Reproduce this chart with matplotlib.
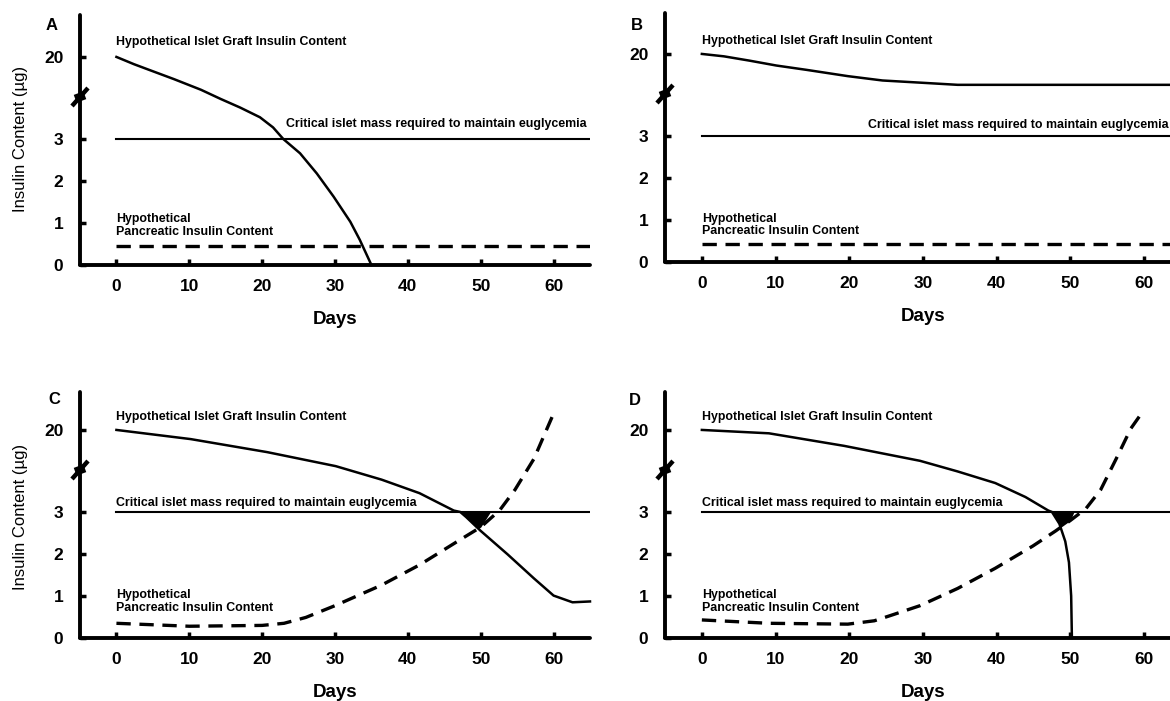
import numpy as np
import matplotlib
matplotlib.use("Agg")
import matplotlib.pyplot as plt

# ——— fonts ———
plt.rcParams['font.family'] = ['Liberation Sans', 'DejaVu Sans']
note_font = ['Liberation Sans', 'DejaVu Sans']
note_size = 8.9

# ——— data (days, insulin content µg) ———
days_flat = [0, 65]
critical = [3, 3]

a_graft_days = [0, 2.4, 4.7, 7.9, 11.6, 14.3, 17.0, 19.7, 21.5, 22.9, 25.2, 27.5, 29.8, 32.1, 33.4, 35.0]
a_graft = [20, 18.5, 17.2, 15.4, 13.2, 11.3, 9.5, 7.5, 5.4, 3.0, 2.66, 2.18, 1.63, 1.03, 0.6, 0.0]
a_panc = [0.46, 0.46]

b_graft_days = [0, 3.0, 6.5, 10.1, 14.2, 19.8, 24.5, 30.2, 34.7, 39.8, 50, 65]
b_graft = [20, 19.5, 18.6, 17.6, 16.7, 15.4, 14.5, 14.0, 13.6, 13.6, 13.6, 13.6]
b_panc = [0.43, 0.43]

c_graft_days = [0, 10.2, 20.7, 30.1, 36.4, 41.6, 46.3, 47.2, 48.0, 50.0, 53.7, 57.3, 60.0, 62.6, 65.0]
c_graft = [20, 18.1, 15.4, 12.5, 9.7, 6.9, 3.3, 3.0, 2.88, 2.55, 1.99, 1.42, 1.01, 0.85, 0.87]
c_panc_days = [0, 10, 20, 23, 26, 30, 36.4, 41.6, 46.9, 50, 52.6, 54.7, 57.3, 60]
c_panc = [0.35, 0.28, 0.30, 0.35, 0.49, 0.77, 1.26, 1.74, 2.31, 2.64, 3.35, 7.6, 14.0, 23.4]

d_graft_days = [0, 9.1, 19.3, 29.6, 34.7, 39.8, 43.9, 47.0, 47.5, 48.5, 49.3, 49.8, 50.1, 50.2]
d_graft = [20, 19.3, 16.7, 13.6, 11.4, 9.0, 6.1, 3.3, 3.0, 2.72, 2.3, 1.8, 1.0, 0.0]
d_panc_days = [0, 9.1, 19.8, 23.4, 25.5, 29.6, 34.7, 39.8, 44.9, 48, 50, 52.1, 54.1, 56.2, 58.2, 60]
d_panc = [0.43, 0.35, 0.33, 0.41, 0.53, 0.77, 1.18, 1.66, 2.19, 2.55, 2.80, 3.7, 7.6, 14.0, 20.3, 24.2]

yticks = [0, 1, 2, 3, 20]
xticks = [0, 10, 20, 30, 40, 50, 60]

# ——— broken y axis: 0-3 linear, 3-20 compressed ———
K = 8.7
def fwd(y):
    y = np.asarray(y, dtype=float)
    return np.where(y <= 3, y, 3 + (y - 3) / K)

def inv(d):
    d = np.asarray(d, dtype=float)
    return np.where(d <= 3, d, 3 + (d - 3) * K)

W, H = 1170, 701
fig = plt.figure(figsize=(W / 100, H / 100), dpi=100)

panels = [
    dict(letter='A', px=(80, 15, 590, 265), lpos=(52, 25),
         graft=(a_graft_days, a_graft), panc=(days_flat, a_panc),
         crit=(64.5, 6.1, 'right'), glab=23.1, plab=0.95, fill=False),
    dict(letter='B', px=(665, 13, 1181, 262), lpos=(637, 25),
         graft=(b_graft_days, b_graft), panc=(days_flat, b_panc),
         crit=(63.3, 5.3, 'right'), glab=22.6, plab=0.88, fill=False),
    dict(letter='C', px=(80, 392, 590, 638), lpos=(54, 400),
         graft=(c_graft_days, c_graft), panc=(c_panc_days, c_panc),
         crit=(0, 4.9, 'left'), glab=22.6, plab=0.86, fill=True),
    dict(letter='D', px=(665, 392, 1181, 638), lpos=(635, 401),
         graft=(d_graft_days, d_graft), panc=(d_panc_days, d_panc),
         crit=(0, 4.9, 'left'), glab=22.6, plab=0.86, fill=True),
]

for p in panels:
    l, t, r, b = p['px']
    ax = fig.add_axes([l / W, 1 - b / H, (r - l) / W, (b - t) / H])
    ax.set_yscale('function', functions=(fwd, inv))
    top_disp = (b - t) / 42.0
    ax.set_ylim(0, float(inv(top_disp)))
    ax.set_xlim(-5, 65)

    # curves
    gx, gy = p['graft']
    ax.plot(gx, gy, color='black', lw=1.8, clip_on=False)
    px_, py_ = p['panc']
    ax.plot(px_, py_, color='black', lw=2.4, linestyle=(0, (4.3, 2.6)))
    ax.plot(days_flat, critical, color='black', lw=1.5)

    if p['fill']:
        xg = np.linspace(44, 56, 400)
        lower = np.maximum(np.interp(xg, gx, gy), np.interp(xg, px_, py_))
        ax.fill_between(xg, lower, 3, where=lower < 3, color='black', lw=0)

    # annotations
    ax.text(0, p['glab'], 'Hypothetical Islet Graft Insulin Content',
            family=note_font, fontsize=note_size, fontweight='bold', va='center', ha='left')
    cx, cy, cha = p['crit']
    ax.text(cx, cy, 'Critical islet mass required to maintain euglycemia',
            family=note_font, fontsize=note_size, fontweight='bold', va='center', ha=cha)
    ax.text(0, p['plab'], 'Hypothetical\nPancreatic Insulin Content',
            family=note_font, fontsize=note_size, fontweight='bold', va='center', ha='left',
            linespacing=1.1)

    # axes styling
    for s in ['top', 'right']:
        ax.spines[s].set_visible(False)
    for s in ['left', 'bottom']:
        ax.spines[s].set_linewidth(2.8)
        ax.spines[s].set_capstyle('round')
    ax.set_yticks(yticks)
    ax.set_yticklabels([str(v) for v in yticks])
    ax.set_xticks(xticks)
    ax.set_xticklabels([str(v) for v in xticks])
    ax.yaxis.set_minor_locator(matplotlib.ticker.NullLocator())
    ax.tick_params(axis='both', direction='in', length=4, width=2.5, labelsize=12.5)
    ax.tick_params(axis='x', pad=10)
    ax.tick_params(axis='y', pad=12)
    for lab in ax.get_xticklabels() + ax.get_yticklabels():
        lab.set_fontweight('bold')
    ax.set_xlabel('Days', fontsize=13.5, fontweight='bold', labelpad=12)

    # axis break mark
    yb = 4.0 / top_disp
    hw, hh = 8 / (r - l), 9 / (b - t)
    ax.plot([-hw, hw], [yb - hh, yb + hh], transform=ax.transAxes,
            color='black', lw=3.2, clip_on=False, solid_capstyle='butt')
    ax.plot([-hw * 0.6, hw * 0.6], [yb - hh * 0.2, yb + hh * 0.2], transform=ax.transAxes,
            color='black', lw=6, clip_on=False, solid_capstyle='butt')

    lx, ly = p['lpos']
    fig.text(lx / W, 1 - ly / H, p['letter'], fontsize=12, fontweight='bold',
             ha='center', va='center')

fig.text(21 / W, 1 - 139 / H, 'Insulin Content (µg)', rotation=90, fontsize=12,
         ha='center', va='center')
fig.text(21 / W, 1 - 517 / H, 'Insulin Content (µg)', rotation=90, fontsize=12,
         ha='center', va='center')

fig.savefig('out.png', dpi=100)
plt.close(fig)
